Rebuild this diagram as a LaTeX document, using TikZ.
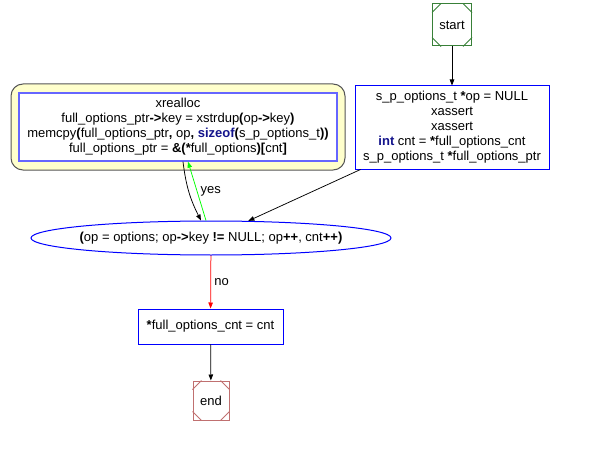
\documentclass[tikz,border=0pt]{standalone}
\usepackage{fontspec}
\setmainfont{Liberation Sans}
\newfontfamily\kwfont[Color=14148C]{Liberation Sans}
\usetikzlibrary{arrows.meta,shapes.geometric,positioning}
\definecolor{startgreen}{RGB}{56,128,56}
\definecolor{endred}{RGB}{192,112,112}
\definecolor{boxblue}{RGB}{0,0,255}
\definecolor{clusterfill}{RGB}{255,255,204}
\definecolor{clusterline}{RGB}{85,85,85}
\newcommand{\kw}[1]{{\kwfont\bfseries #1}}
\newcommand{\op}[1]{\textbf{#1}}
\tikzset{
  post/.style     = {-{Triangle[length=6pt,width=4.5pt]}, line width=0.75pt},
  stmt/.style     = {draw=boxblue, rectangle, fill=white, align=center, inner sep=0pt, line width=1pt},
  code/.style     = {align=center, inner sep=0pt},
  loophead/.style = {draw=boxblue, ellipse, inner sep=0pt, minimum width=360pt, minimum height=34pt, line width=1pt},
  cluster/.style  = {draw=clusterline, fill=clusterfill, rectangle, rounded corners=12pt, line width=1pt},
  terminal/.style = {draw=#1, rectangle, inner sep=0pt, line width=1pt}
}
\begin{document}
\begin{tikzpicture}[x=1pt, y=-1pt, font=\fontsize{13}{15}\selectfont]
  \useasboundingbox (0,0) rectangle (597,476);
  \node[stmt, minimum width=194pt, minimum height=83pt] (init) at (452,127.5) {};
  \node[cluster, minimum width=334pt, minimum height=86pt] (bodybox) at (178,127) {};
  \node[stmt, draw=blue!60, line width=1.3pt, minimum width=318pt, minimum height=68pt] (body) at (178,127) {};
  \node[loophead] (for) at (211,238)
    {\makebox[0pt][c]{\op{(}op = options; op\op{->}key \op{!=} NULL; op\op{++}, cnt\op{++)}}};
  \node[stmt, minimum width=145pt, minimum height=35pt] (store) at (210.5,326.5) {\op{*}full\_options\_cnt = cnt};
  \node[terminal=startgreen, minimum width=39pt, minimum height=42pt] (start) at (452,25) {start};
  \node[terminal=endred, minimum width=36pt, minimum height=39pt] (end) at (211,400.5) {end};

  \draw[post] (start) -- (init);
  \draw[post] (init) -- (for);
  \draw[post] ([xshift=5pt]body.south) to[bend right=10] ([xshift=-10pt]for.north);
  \draw[post, green] ([xshift=-5pt]for.north) -- node[right, text=black] {yes} ([xshift=10pt]body.south);
  \draw[post, red] (for) -- node[right, text=black] {no} (store);
  \draw[post] (store) -- (end);

  % cut corners of start and end
  \foreach \n/\c in {start/startgreen, end/endred}
    \draw[\c, line width=1pt]
      ([xshift=9pt]\n.north west) -- ([yshift=-9pt]\n.north west)
      ([xshift=-9pt]\n.north east) -- ([yshift=-9pt]\n.north east)
      ([xshift=9pt]\n.south west) -- ([yshift=9pt]\n.south west)
      ([xshift=-9pt]\n.south east) -- ([yshift=9pt]\n.south east);

  % code with keywords goes last
  \node[code] (inittext) at (init.center)
    {s\_p\_options\_t \op{*}op = NULL\\ xassert\\ xassert\\
     \kw{int} cnt = \op{*}full\_options\_cnt\\ s\_p\_options\_t \op{*}full\_options\_ptr};
  \node[code] (bodytext) at (body.center)
    {xrealloc\\ full\_options\_ptr\op{->}key = xstrdup\op{(}op\op{->}key\op{)}\\
     memcpy\op{(}full\_options\_ptr\op{,} op\op{,} \kw{sizeof}\op{(}s\_p\_options\_t\op{))}\\
     full\_options\_ptr = \op{\&(*}full\_options\op{)[}cnt\op{]}};
\end{tikzpicture}
\end{document}
